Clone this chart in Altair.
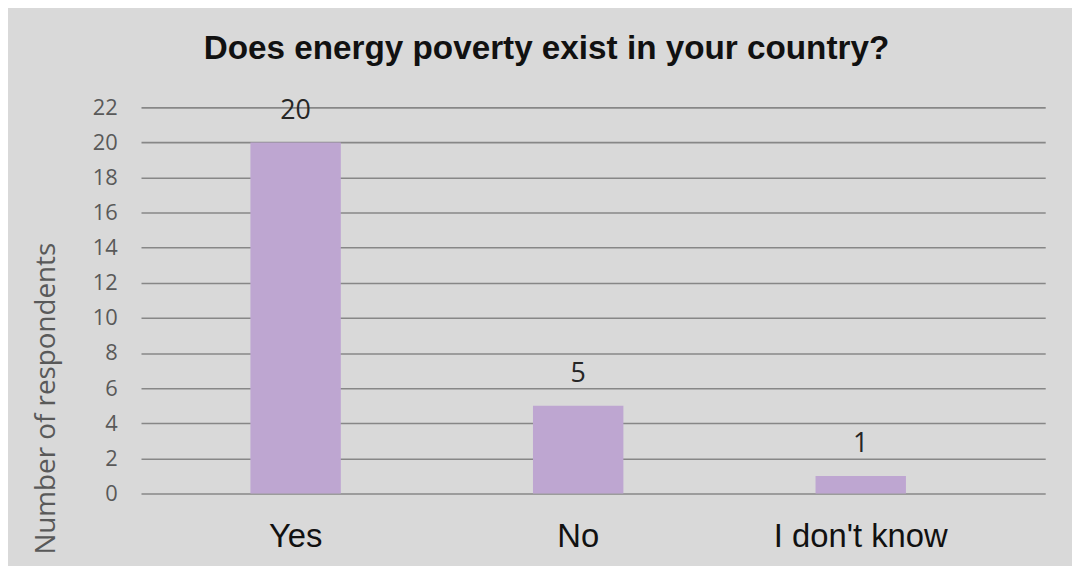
import altair as alt
import pandas as pd

categories = ["Yes", "No", "I don't know"]
counts = [20, 5, 1]
y_ticks = [0, 2, 4, 6, 8, 10, 12, 14, 16, 18, 20, 22]

df = pd.DataFrame({"answer": categories, "count": counts})

x_enc = alt.X(
    "answer:N",
    sort=categories,
    scale=alt.Scale(paddingInner=0.68, paddingOuter=0.44, align=0.44),
    axis=alt.Axis(
        title=None, labelAngle=0, ticks=False, domain=False,
        labelFont="Liberation Sans", labelFontSize=33, labelColor="#111111",
        labelPadding=27,
    ),
)
y_enc = alt.Y(
    "count:Q",
    scale=alt.Scale(domain=[0, 22], nice=False),
    axis=alt.Axis(
        values=y_ticks, title="Number of respondents", grid=True,
        gridColor="#878787", gridWidth=1.6, domain=False, ticks=False,
        labelOverlap=False,
        labelFont="Open Sans", labelFontSize=22, labelColor="#595959",
        labelPadding=24,
        titleFont="Open Sans", titleFontSize=28, titleFontWeight="normal",
        titleColor="#595959", titleAngle=270, titleX=-95, titleY=293,
        titleAlign="center", titleBaseline="middle",
    ),
)

base = alt.Chart(df).encode(x=x_enc, y=y_enc)
bars = base.mark_bar(color="#bea6d1")
labels = base.mark_text(
    dy=-32, baseline="middle", font="Open Sans", fontSize=27, color="#262626"
).encode(text="count:Q")

chart = (
    alt.layer(bars, labels)
    .properties(
        width=911,
        height=389,
        autosize=alt.AutoSizeParams(type="none"),
        padding={"left": 134, "right": 27, "top": 98, "bottom": 71},
        background="#d9d9d9",
        title=alt.TitleParams(
            "Does energy poverty exist in your country?",
            font="Liberation Sans", fontSize=33.5, fontWeight="bold",
            color="#111111", anchor="middle", frame="group", dx=-47, offset=30,
        ),
    )
    .configure_view(stroke=None)
)

chart.save("out.html", embed_options={"renderer": "svg", "actions": False})
